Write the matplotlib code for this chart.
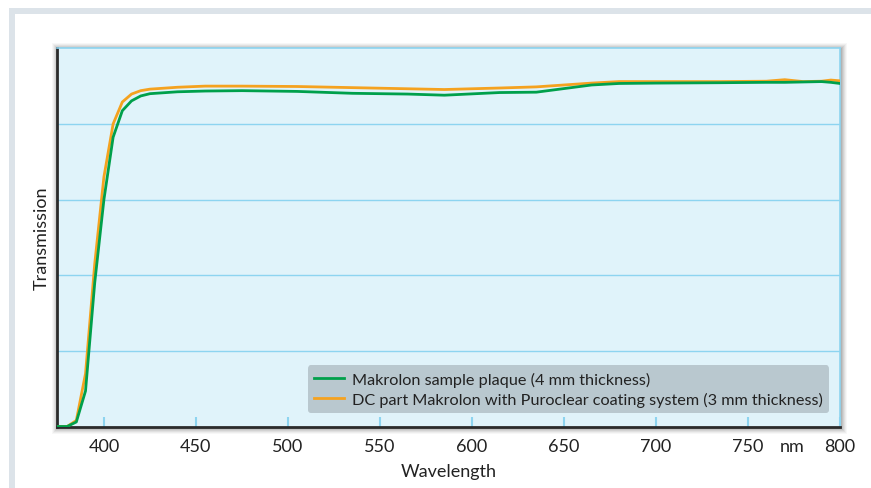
import matplotlib
matplotlib.use("Agg")
import matplotlib.pyplot as plt
from matplotlib.patches import Rectangle

wavelength = [375, 380, 385, 390, 395, 400, 405, 410, 415, 420, 425, 440, 455, 475,
              505, 535, 565, 585, 615, 635, 665, 680, 700, 735, 760, 770, 780, 790, 795, 800]
makrolon_plaque = [0, 0, 1.2, 9.4, 38, 60, 76.5, 83.5, 86.1, 87.4, 88.0, 88.5, 88.7, 88.8,
                   88.6, 88.1, 87.9, 87.6, 88.3, 88.4, 90.3, 90.7, 90.8, 90.9, 91.0, 91.0,
                   91.1, 91.2, 91.0, 90.7]
dc_puroclear = [0, 0, 1.6, 14, 43, 66, 80, 85.8, 87.9, 88.8, 89.2, 89.7, 90.0, 90.0,
                89.9, 89.6, 89.3, 89.1, 89.5, 89.8, 90.8, 91.2, 91.2, 91.2, 91.3, 91.7,
                91.2, 91.3, 91.6, 91.4]
labels = ["Makrolon sample plaque (4 mm thickness)",
          "DC part Makrolon with Puroclear coating system (3 mm thickness)"]
xticks = [400, 450, 500, 550, 600, 650, 700, 750, 800]
xtick_labels = ["400", "450", "500", "550", "600", "650", "700", "750", "800"]
unit_pos = [774]
unit_label = ["nm"]

plt.rcParams['font.family'] = ['Lato', 'DejaVu Sans']

W, H = 871, 489
fig = plt.figure(figsize=(W / 100, H / 100), dpi=100)
fig.patch.set_facecolor("white")

def fx(px):
    return px / W

def fy(py):
    return 1 - py / H

# outer gray frame
fig.patches.append(Rectangle((fx(9), 0), 1 - fx(9), fy(9), transform=fig.transFigure,
                             facecolor="#dce3e9", edgecolor="none", zorder=0))
fig.patches.append(Rectangle((fx(15), 0), 1 - fx(15), fy(15), transform=fig.transFigure,
                             facecolor="white", edgecolor="none", zorder=0))

L, R, T, B = 57, 840, 49.3, 427.5
# drop shadow
for i, a in zip(range(6, 0, -1), [0.03, 0.04, 0.05, 0.06, 0.07, 0.08]):
    fig.patches.append(Rectangle((fx(L - i + 1), fy(B + i + 1)), fx(R - L + 2 * i), (B - T + 2 * i) / H,
                                 transform=fig.transFigure, facecolor="black", alpha=a,
                                 edgecolor="none", zorder=1))

ax = fig.add_axes([fx(L), fy(B), fx(R - L), (B - T) / H])
ax.set_zorder(2)
ax.set_facecolor("#e0f3fa")

ax.plot(wavelength, dc_puroclear, color="#f5a21f", lw=2.0, label=labels[1], zorder=3, solid_joinstyle="round")
ax.plot(wavelength, makrolon_plaque, color="#00a04b", lw=2.0, label=labels[0], zorder=4, solid_joinstyle="round")

ax.set_xlim(374.5, 800)
ax.set_ylim(0, 100)
ax.set_yticks([20, 40, 60, 80])
ax.yaxis.grid(True, color="#8dd4f0", lw=1.0)
ax.set_axisbelow(True)
ax.tick_params(axis="y", length=0, labelleft=False)
ax.set_xticks(xticks)
ax.set_xticklabels(xtick_labels)
ax.set_xticks(unit_pos, minor=True)
ax.set_xticklabels(unit_label, minor=True)
ax.tick_params(axis="x", which="major", direction="in", length=7, width=1.5, color="#8dd4f0",
               labelsize=13, labelcolor="#222222", pad=8)
ax.tick_params(axis="x", which="minor", length=0, labelsize=13, labelcolor="#222222", pad=8)

for s in ["top", "right"]:
    ax.spines[s].set_color("#8dd4f0")
    ax.spines[s].set_linewidth(1.2)
for s in ["left", "bottom"]:
    ax.spines[s].set_color("#2b2b2b")
    ax.spines[s].set_linewidth(2.0)

ax.set_xlabel("Wavelength", fontsize=13, color="#222222", labelpad=7)
ax.set_ylabel("Transmission", fontsize=13, color="#222222", labelpad=5)

h, l = ax.get_legend_handles_labels()
leg = ax.legend(h[::-1], l[::-1], loc="lower right", bbox_to_anchor=(0.986, 0.035),
                fontsize=11.7, frameon=True, fancybox=True, framealpha=1,
                facecolor="#b9c8cf", edgecolor="none", handlelength=1.8,
                handletextpad=0.5, borderpad=0.4, labelspacing=0.3, borderaxespad=0)
for t in leg.get_texts():
    t.set_color("#222222")

fig.savefig("out.png", dpi=100)
